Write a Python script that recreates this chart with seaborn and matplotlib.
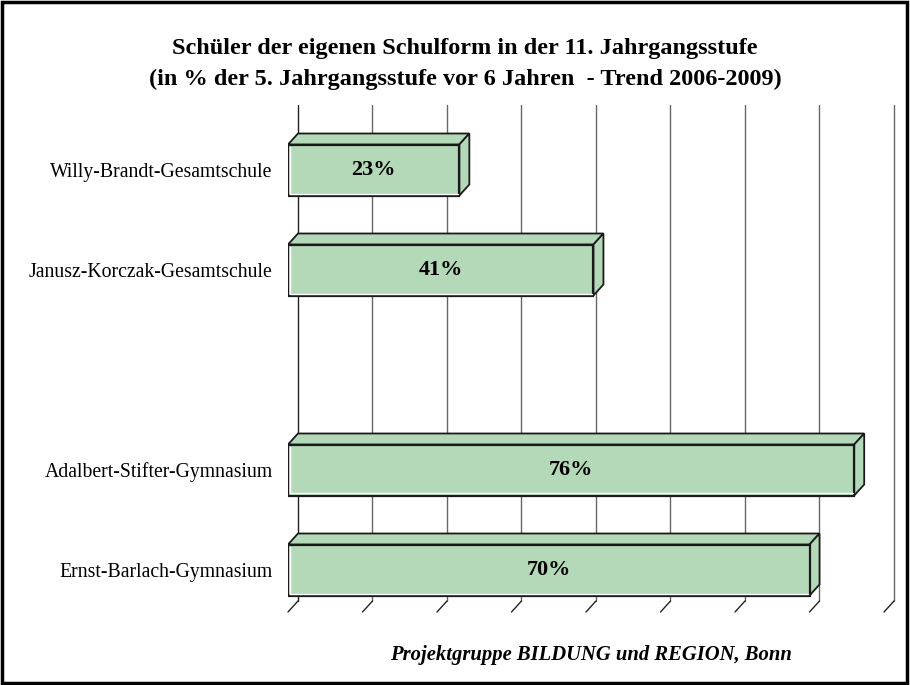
import pandas as pd
import seaborn as sns
import matplotlib.pyplot as plt
from matplotlib.patches import Polygon, Rectangle

# --- data ---
schools = ["Willy-Brandt-Gesamtschule", "Janusz-Korczak-Gesamtschule",
           "Adalbert-Stifter-Gymnasium", "Ernst-Barlach-Gymnasium"]
shares = [23, 41, 76, 70]
slot_order = ["Willy-Brandt-Gesamtschule", "Janusz-Korczak-Gesamtschule", " ",
              "Adalbert-Stifter-Gymnasium", "Ernst-Barlach-Gymnasium"]
grid_ticks = [0, 10, 20, 30, 40, 50, 60, 70, 80]

title = ("Schüler der eigenen Schulform in der 11. Jahrgangsstufe\n"
         "(in % der 5. Jahrgangsstufe vor 6 Jahren  - Trend 2006-2009)")
footer = "Projektgruppe BILDUNG und REGION, Bonn"

df = pd.DataFrame({"schule": schools, "anteil": shares})

sns.set_theme(style="white")
plt.rcParams['font.family'] = ['Liberation Serif', 'DejaVu Serif']
plt.rcParams['text.color'] = 'black'

W, H = 910, 685
fig = plt.figure(figsize=(W / 100, H / 100), dpi=100)
ax = fig.add_axes([288 / W, (H - 612) / H, 606 / W, 507 / H])

green = "#b4d9b9"
edge = "#1a1a1a"
sns.barplot(data=df, y="schule", x="anteil", order=slot_order, orient="h",
            width=0.51, color=green, saturation=1, edgecolor=edge,
            linewidth=1.6, ax=ax, zorder=3)

ax.set_xlim(0, 81.34)
ax.set_ylim(4.42, -0.65)

# 3D depth offset (data units)
dx, dy = 1.34, 0.11

# back wall gridlines and floor ticks
y_back_bottom = 4.42 - dy
for i, t in enumerate(grid_ticks):
    col = "#222222" if i == 0 else "#666666"
    ax.plot([t + dx, t + dx], [-0.65, y_back_bottom], color=col, lw=1.0,
            zorder=1, clip_on=False)
    ax.plot([t, t + dx], [4.42, y_back_bottom], color="#222222", lw=1.0,
            zorder=1, clip_on=False)

# top and side faces of the bars
for p in ax.patches[:]:
    x0, y0, w, h = p.get_x(), p.get_y(), p.get_width(), p.get_height()
    if not w == w or w == 0:
        continue
    top = Polygon([(x0, y0), (x0 + w, y0), (x0 + w + dx, y0 - dy), (x0 + dx, y0 - dy)],
                  closed=True, facecolor=green, edgecolor=edge, lw=1.3, zorder=2.5)
    side = Polygon([(x0 + w, y0), (x0 + w, y0 + h), (x0 + w + dx, y0 + h - dy),
                    (x0 + w + dx, y0 - dy)],
                   closed=True, facecolor=green, edgecolor=edge, lw=1.3, zorder=2.5)
    ax.add_patch(top)
    ax.add_patch(side)
    # white highlight inside the front face
    ax.plot([x0 + 0.25, x0 + 0.25, x0 + w - 0.2], [y0 + 0.02, y0 + h - 0.02, y0 + h - 0.02],
            color="white", lw=1.0, zorder=4)

# value labels
pos = {name: i for i, name in enumerate(slot_order)}
for name, val in zip(schools, shares):
    ax.text(val / 2, pos[name], f"{val}%", ha="center", va="center",
            fontsize=16, fontweight="bold", color="black", zorder=5)

ax.set_xlabel("")
ax.set_ylabel("")
ax.set_xticks([])
ax.tick_params(axis="y", length=0, pad=11, labelsize=14.2, labelcolor="black")
for s in ax.spines.values():
    s.set_visible(False)
ax.set_facecolor("none")

fig.text(465 / W, 1 - 64 / H, title, ha="center", va="center", fontsize=17.5,
         fontweight="bold", linespacing=1.55, color="black")
fig.text(591 / W, 1 - 655 / H, footer, ha="center", va="center", fontsize=14.9,
         fontweight="bold", style="italic", color="black")

fig.patches.append(Rectangle((0.002, 0.003), 0.995, 0.994, transform=fig.transFigure,
                             fill=False, edgecolor="black", lw=2.5))

fig.savefig("out.png", dpi=100)
